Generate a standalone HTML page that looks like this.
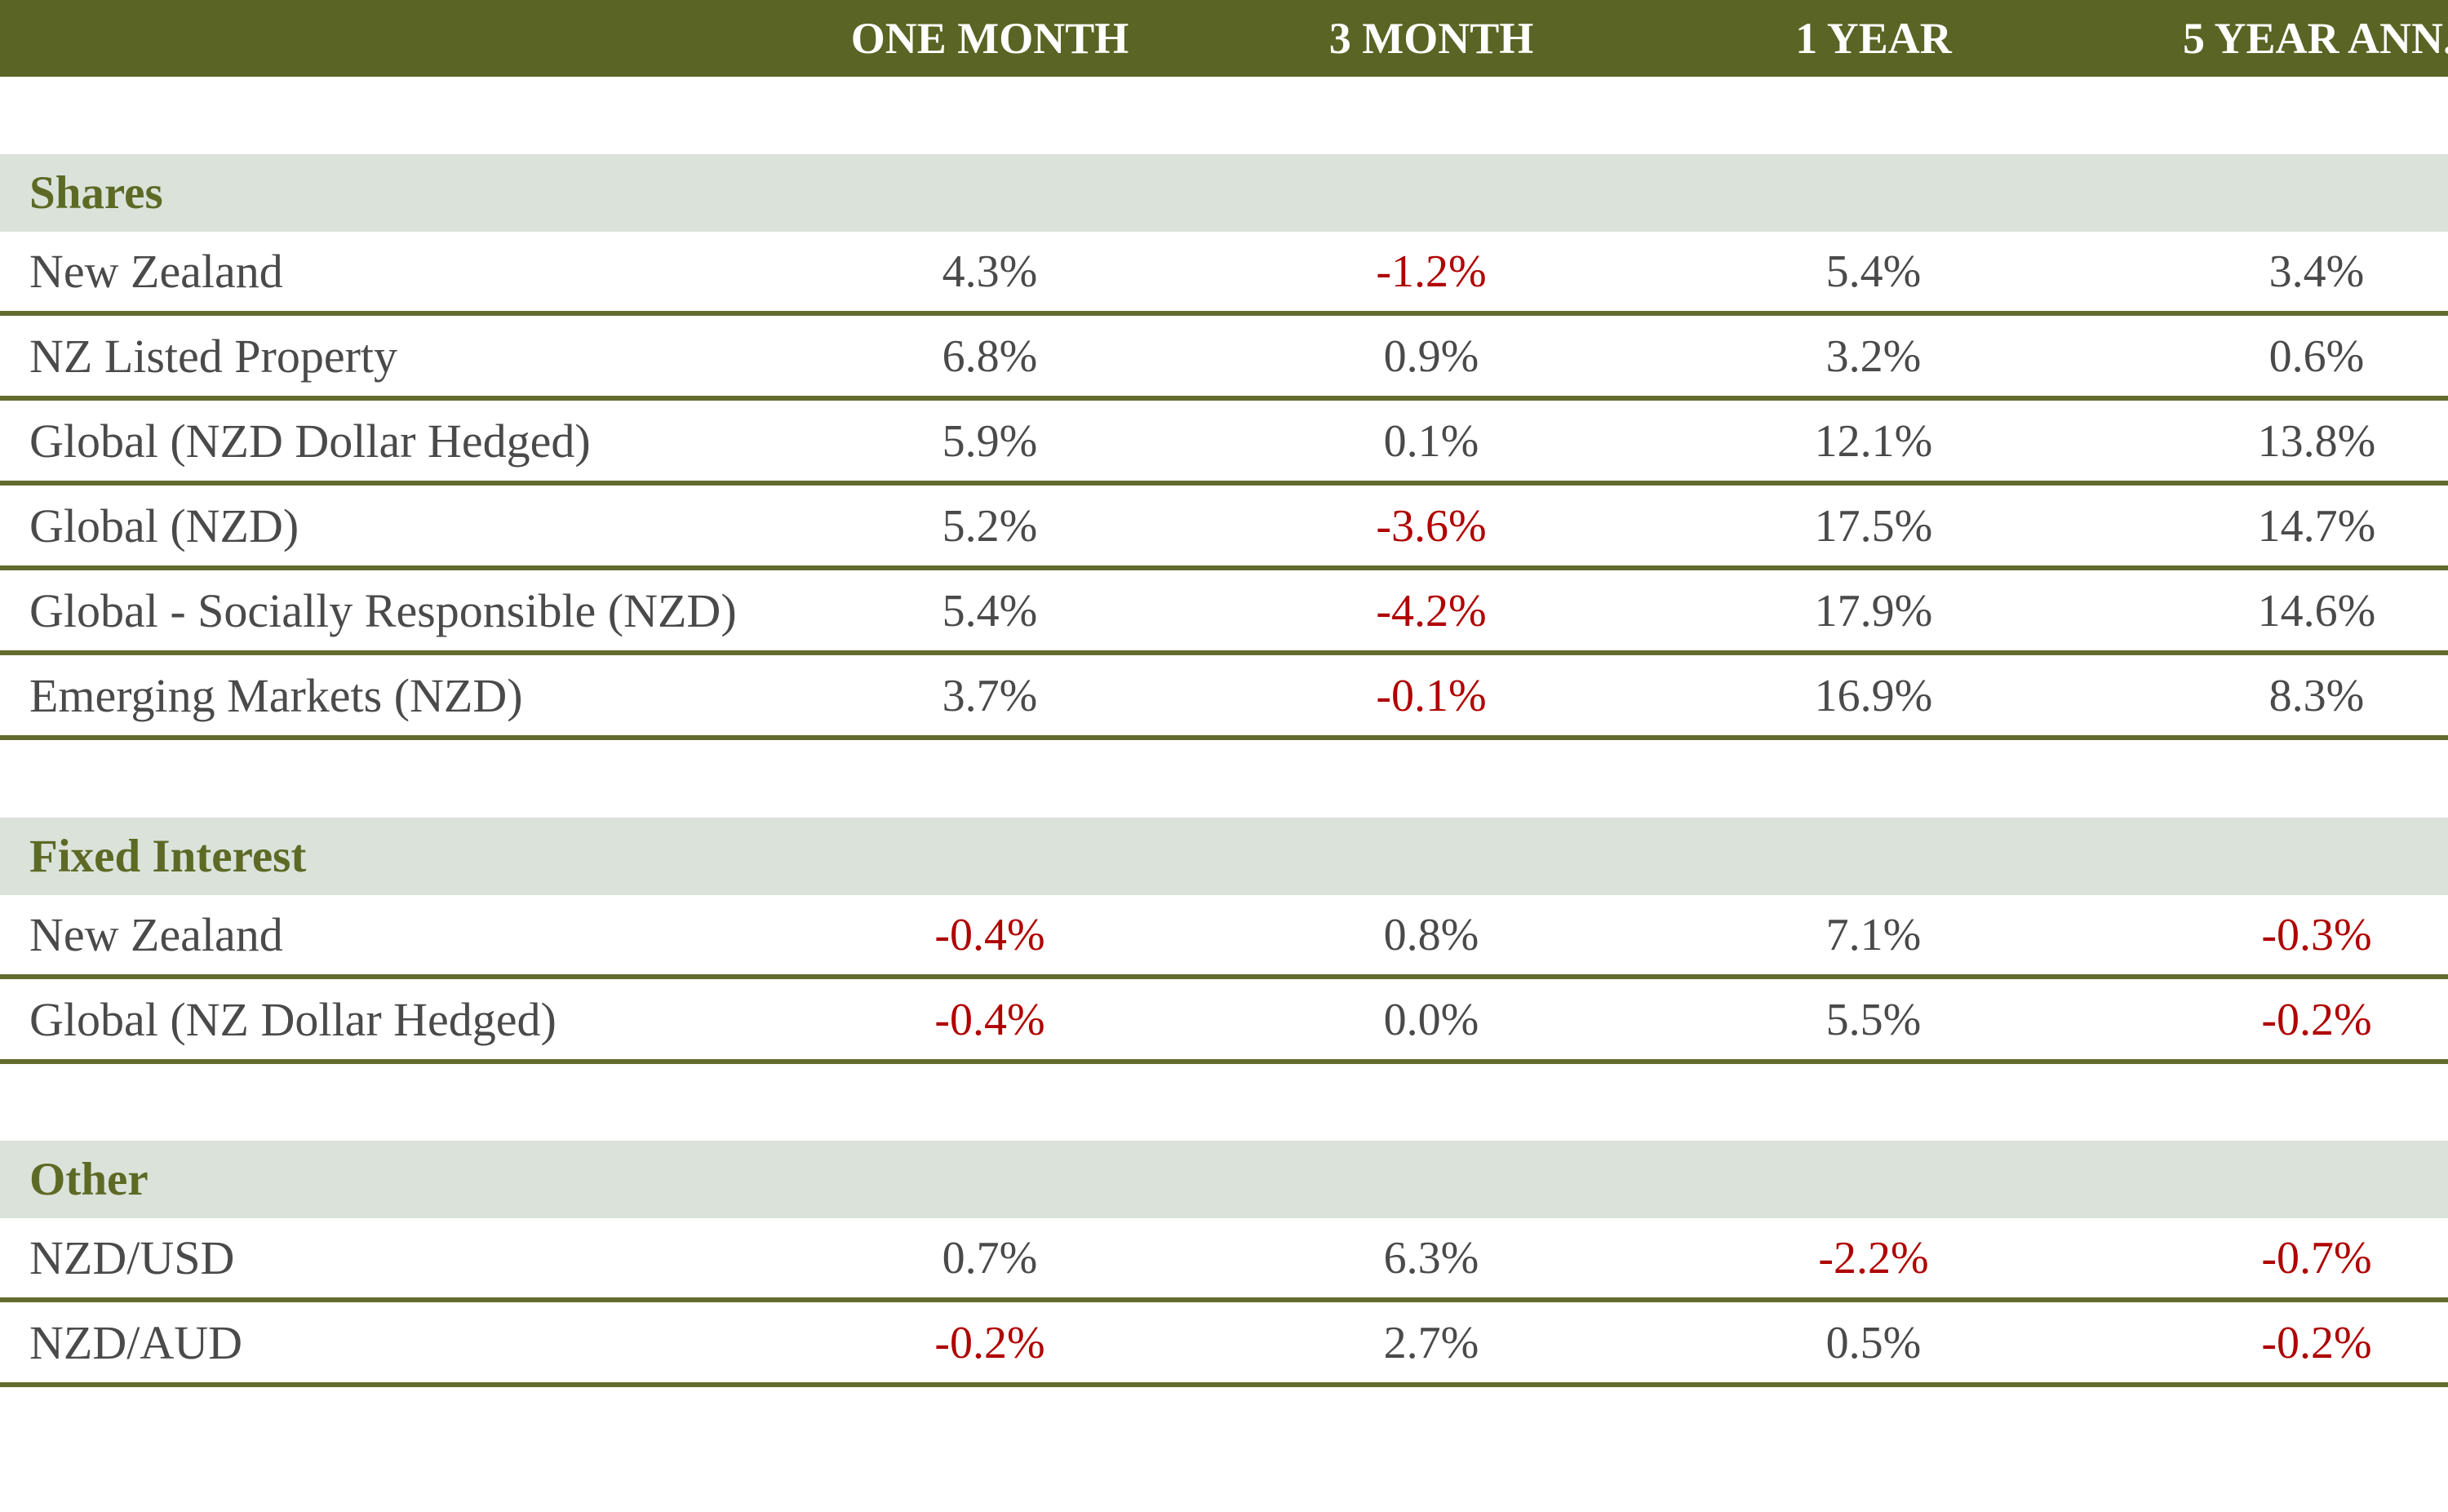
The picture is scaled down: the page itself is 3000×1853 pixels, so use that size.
<!DOCTYPE html>
<html><head><meta charset="utf-8"><style>
html,body{margin:0;padding:0;background:#fff;}
body{width:3000px;height:1853px;position:relative;overflow:hidden;font-family:"Liberation Serif",serif;}
.hdr{position:absolute;left:0;top:0;width:3000px;height:94px;background:#5a6424;}
.h{position:absolute;top:0;height:94px;line-height:94px;color:#fff;font-weight:bold;font-size:54px;white-space:nowrap;transform:translateX(-50%);}
.band{position:absolute;left:0;width:3000px;height:95px;background:#dae2da;}
.cat{position:absolute;left:36px;color:#5d6a25;font-weight:bold;font-size:57px;line-height:95px;height:95px;}
.line{position:absolute;left:0;width:3000px;height:6px;background:#636b2e;}
.t{position:absolute;font-size:58px;color:#4a4a4a;line-height:98px;height:98px;white-space:nowrap;}
.v{position:absolute;font-size:56px;color:#4a4a4a;line-height:98px;height:98px;white-space:nowrap;transform:translateX(-50%);}
.r{color:#b00000;}
</style></head><body>
<div class="hdr"></div>
<div class="h" style="left:1213px">ONE MONTH</div>
<div class="h" style="left:1754px">3 MONTH</div>
<div class="h" style="left:2296px">1 YEAR</div>
<div class="h" style="left:2675px;transform:none">5 YEAR ANN.</div>

<div class="band" style="top:189px"></div><div class="cat" style="top:189px">Shares</div>
<div class="band" style="top:1002px"></div><div class="cat" style="top:1002px">Fixed Interest</div>
<div class="band" style="top:1398px"></div><div class="cat" style="top:1398px">Other</div>

<div class="line" style="top:381px"></div>
<div class="line" style="top:485px"></div>
<div class="line" style="top:589px"></div>
<div class="line" style="top:693px"></div>
<div class="line" style="top:797px"></div>
<div class="line" style="top:901px"></div>
<div class="line" style="top:1194px"></div>
<div class="line" style="top:1298px"></div>
<div class="line" style="top:1590px"></div>
<div class="line" style="top:1694px"></div>

<div class="t" style="left:36px;top:284px">New Zealand</div>
<div class="v" style="left:1213px;top:284px">4.3%</div><div class="v r" style="left:1754px;top:284px">-1.2%</div><div class="v" style="left:2296px;top:284px">5.4%</div><div class="v" style="left:2839px;top:284px">3.4%</div>

<div class="t" style="left:36px;top:388px">NZ Listed Property</div>
<div class="v" style="left:1213px;top:388px">6.8%</div><div class="v" style="left:1754px;top:388px">0.9%</div><div class="v" style="left:2296px;top:388px">3.2%</div><div class="v" style="left:2839px;top:388px">0.6%</div>

<div class="t" style="left:36px;top:492px">Global (NZD Dollar Hedged)</div>
<div class="v" style="left:1213px;top:492px">5.9%</div><div class="v" style="left:1754px;top:492px">0.1%</div><div class="v" style="left:2296px;top:492px">12.1%</div><div class="v" style="left:2839px;top:492px">13.8%</div>

<div class="t" style="left:36px;top:596px">Global (NZD)</div>
<div class="v" style="left:1213px;top:596px">5.2%</div><div class="v r" style="left:1754px;top:596px">-3.6%</div><div class="v" style="left:2296px;top:596px">17.5%</div><div class="v" style="left:2839px;top:596px">14.7%</div>

<div class="t" style="left:36px;top:700px">Global - Socially Responsible (NZD)</div>
<div class="v" style="left:1213px;top:700px">5.4%</div><div class="v r" style="left:1754px;top:700px">-4.2%</div><div class="v" style="left:2296px;top:700px">17.9%</div><div class="v" style="left:2839px;top:700px">14.6%</div>

<div class="t" style="left:36px;top:804px">Emerging Markets (NZD)</div>
<div class="v" style="left:1213px;top:804px">3.7%</div><div class="v r" style="left:1754px;top:804px">-0.1%</div><div class="v" style="left:2296px;top:804px">16.9%</div><div class="v" style="left:2839px;top:804px">8.3%</div>

<div class="t" style="left:36px;top:1097px">New Zealand</div>
<div class="v r" style="left:1213px;top:1097px">-0.4%</div><div class="v" style="left:1754px;top:1097px">0.8%</div><div class="v" style="left:2296px;top:1097px">7.1%</div><div class="v r" style="left:2839px;top:1097px">-0.3%</div>

<div class="t" style="left:36px;top:1201px">Global (NZ Dollar Hedged)</div>
<div class="v r" style="left:1213px;top:1201px">-0.4%</div><div class="v" style="left:1754px;top:1201px">0.0%</div><div class="v" style="left:2296px;top:1201px">5.5%</div><div class="v r" style="left:2839px;top:1201px">-0.2%</div>

<div class="t" style="left:36px;top:1493px">NZD/USD</div>
<div class="v" style="left:1213px;top:1493px">0.7%</div><div class="v" style="left:1754px;top:1493px">6.3%</div><div class="v r" style="left:2296px;top:1493px">-2.2%</div><div class="v r" style="left:2839px;top:1493px">-0.7%</div>

<div class="t" style="left:36px;top:1597px">NZD/AUD</div>
<div class="v r" style="left:1213px;top:1597px">-0.2%</div><div class="v" style="left:1754px;top:1597px">2.7%</div><div class="v" style="left:2296px;top:1597px">0.5%</div><div class="v r" style="left:2839px;top:1597px">-0.2%</div>
</body></html>
